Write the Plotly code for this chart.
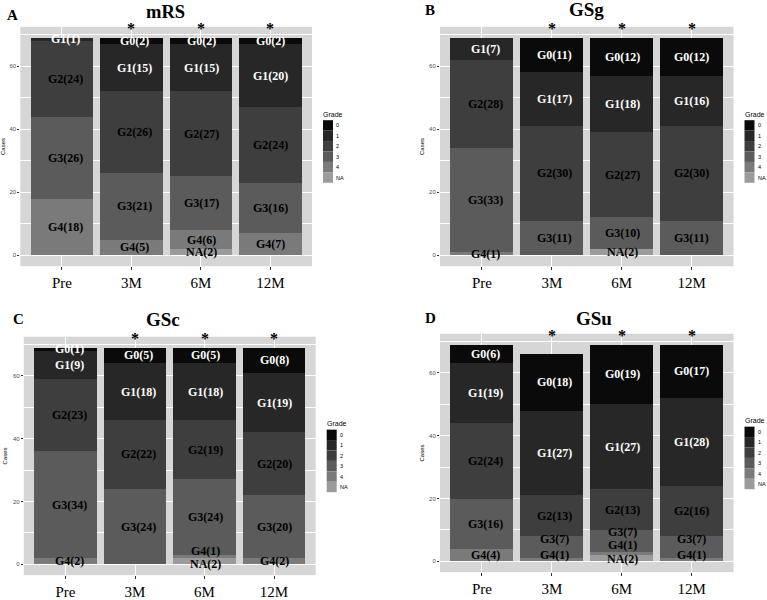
import plotly.graph_objects as go

W, H = 767, 600

categories = ["Pre", "3M", "6M", "12M"]
grades = ["0", "1", "2", "3", "4", "NA"]

# counts per grade (rows: grade 0,1,2,3,4,NA ; columns: Pre,3M,6M,12M)
mrs_counts = [
    [0, 2, 2, 2],
    [1, 15, 15, 20],
    [24, 26, 27, 24],
    [26, 21, 17, 16],
    [18, 5, 6, 7],
    [0, 0, 2, 0],
]
gsg_counts = [
    [0, 11, 12, 12],
    [7, 17, 18, 16],
    [28, 30, 27, 30],
    [33, 11, 10, 11],
    [1, 0, 0, 0],
    [0, 0, 2, 0],
]
gsc_counts = [
    [1, 5, 5, 8],
    [9, 18, 18, 19],
    [23, 22, 19, 20],
    [34, 24, 24, 20],
    [2, 0, 1, 2],
    [0, 0, 2, 0],
]
gsu_counts = [
    [6, 18, 19, 17],
    [19, 27, 27, 28],
    [24, 13, 13, 16],
    [16, 7, 7, 7],
    [4, 1, 1, 1],
    [0, 0, 2, 0],
]
panel_titles = ["mRS", "GSg", "GSc", "GSu"]
panel_letters = ["A", "B", "C", "D"]
star_categories = ["3M", "6M", "12M"]

# ---- style / layout ----
colors = ["#0a0a0a", "#272727", "#3e3e3e", "#5b5b5b", "#7a7a7a", "#9b9b9b"]
text_colors = ["white", "white", "black", "black", "black", "black"]
SERIF = "Liberation Serif"
SANS = "Liberation Sans"
PANEL_BG = "#d6d6d6"

# panel pixel boxes: (left, right, top, bottom)
boxes = [
    (20.3, 312.0, 27, 268),
    (440.0, 733.5, 27, 268),
    (23.8, 315.7, 339, 579),
    (440.0, 733.5, 336, 576),
]
title_pos = [(165.5, 12), (586, 10), (163, 322), (594, 321)]
title_sizes = [18.5, 19, 19, 19]
letter_pos = [(12, 15), (430, 10), (18, 321), (430, 320)]
label_xshift = [4, 3, 1, 0]
# small manual nudges (pixels, up positive) for crowded labels: (panel, category idx, grade idx)
nudges = {
    (2, 2, 4): 5, (2, 2, 5): -3,
    (3, 1, 3): 8, (3, 1, 4): 5,
    (3, 2, 3): 9, (3, 2, 4): 8, (3, 2, 5): -1,
    (3, 3, 3): 8, (3, 3, 4): 5,
}

panels = [mrs_counts, gsg_counts, gsc_counts, gsu_counts]

fig = go.Figure()
annotations = []
shapes = []
YR = [-3.45, 72.45]

for p, counts in enumerate(panels):
    sfx = "" if p == 0 else str(p + 1)
    xa, ya = "x" + sfx, "y" + sfx
    # stacking order: NA bottom ... 0 top
    order = [5, 4, 3, 2, 1, 0]
    base = [0] * len(categories)
    for g in order:
        vals = counts[g]
        fig.add_trace(go.Bar(
            x=categories, y=vals, marker=dict(color=colors[g], line=dict(width=0)),
            xaxis=xa, yaxis=ya, showlegend=False, hoverinfo="skip"))
        for ci, v in enumerate(vals):
            if v > 0:
                lab = ("NA" if grades[g] == "NA" else "G" + grades[g]) + "(%d)" % v
                annotations.append(dict(
                    x=categories[ci], y=base[ci] + v / 2, xref=xa, yref=ya,
                    text="<b>%s</b>" % lab, showarrow=False,
                    xshift=label_xshift[ci],
                    yshift=nudges.get((p, ci, g), 0),
                    font=dict(family=SERIF, size=12, color=text_colors[g])))
            base[ci] += v
    L, R, T, B = boxes[p]
    fig.update_layout(**{
        "xaxis" + sfx: dict(
            domain=[L / W, R / W], anchor=ya, range=[-0.6, 3.6],
            categoryorder="array", categoryarray=categories,
            showgrid=True, gridcolor="white", gridwidth=1, zeroline=False,
            ticks="outside", ticklen=3, tickcolor="#333",
            tickfont=dict(family=SERIF, size=15, color="black")),
        "yaxis" + sfx: dict(
            domain=[1 - B / H, 1 - T / H], anchor=xa, range=YR,
            tick0=0, dtick=20, showgrid=True, gridcolor="white", gridwidth=1,
            minor=dict(dtick=10, showgrid=True, gridcolor="white", gridwidth=0.6),
            zeroline=False, ticks="outside", ticklen=2, tickcolor="#333",
            tickfont=dict(family=SANS, size=6, color="#4d4d4d"),
            title=dict(text="Cases", font=dict(family=SANS, size=6, color="black"),
                       standoff=4)),
    })
    # asterisks
    for c in star_categories:
        annotations.append(dict(
            x=c, y=YR[1], xref=xa, yref=ya, text="<b>*</b>", showarrow=False,
            yanchor="middle", yshift=-2,
            font=dict(family=SERIF, size=16, color="black")))
    # titles & letters
    tx, ty = title_pos[p]
    annotations.append(dict(x=tx / W, y=1 - ty / H, xref="paper", yref="paper",
                            text="<b>%s</b>" % panel_titles[p], showarrow=False,
                            xanchor="center", yanchor="middle",
                            font=dict(family=SERIF, size=title_sizes[p], color="black")))
    lx, ly = letter_pos[p]
    annotations.append(dict(x=lx / W, y=1 - ly / H, xref="paper", yref="paper",
                            text="<b>%s</b>" % panel_letters[p], showarrow=False,
                            xanchor="center", yanchor="middle",
                            font=dict(family=SERIF, size=15, color="black")))
    # legend (drawn)
    lgx = R + 11
    mid = (T + B) / 2
    key = 10.5
    top = mid - 32.5
    annotations.append(dict(x=lgx / W, y=1 - top / H, xref="paper", yref="paper",
                            text="Grade", showarrow=False, xanchor="left",
                            yanchor="middle", xshift=-2,
                            font=dict(family=SANS, size=7, color="black")))
    for k, g in enumerate(grades):
        y0 = top + 6 + k * key
        shapes.append(dict(type="rect", xref="paper", yref="paper",
                           x0=lgx / W, x1=(lgx + 10) / W,
                           y0=1 - y0 / H, y1=1 - (y0 + key) / H,
                           fillcolor=colors[k], line=dict(width=0)))
        annotations.append(dict(x=(lgx + 13) / W, y=1 - (y0 + key / 2) / H,
                                xref="paper", yref="paper", text=g, showarrow=False,
                                xanchor="left", yanchor="middle", xshift=-2,
                                font=dict(family=SANS, size=5.5, color="black")))

fig.update_layout(
    width=W, height=H, margin=dict(l=0, r=0, t=0, b=0),
    paper_bgcolor="white", plot_bgcolor=PANEL_BG,
    barmode="stack", bargap=0.1,
    annotations=annotations, shapes=shapes,
)

fig.write_html("out.html")
